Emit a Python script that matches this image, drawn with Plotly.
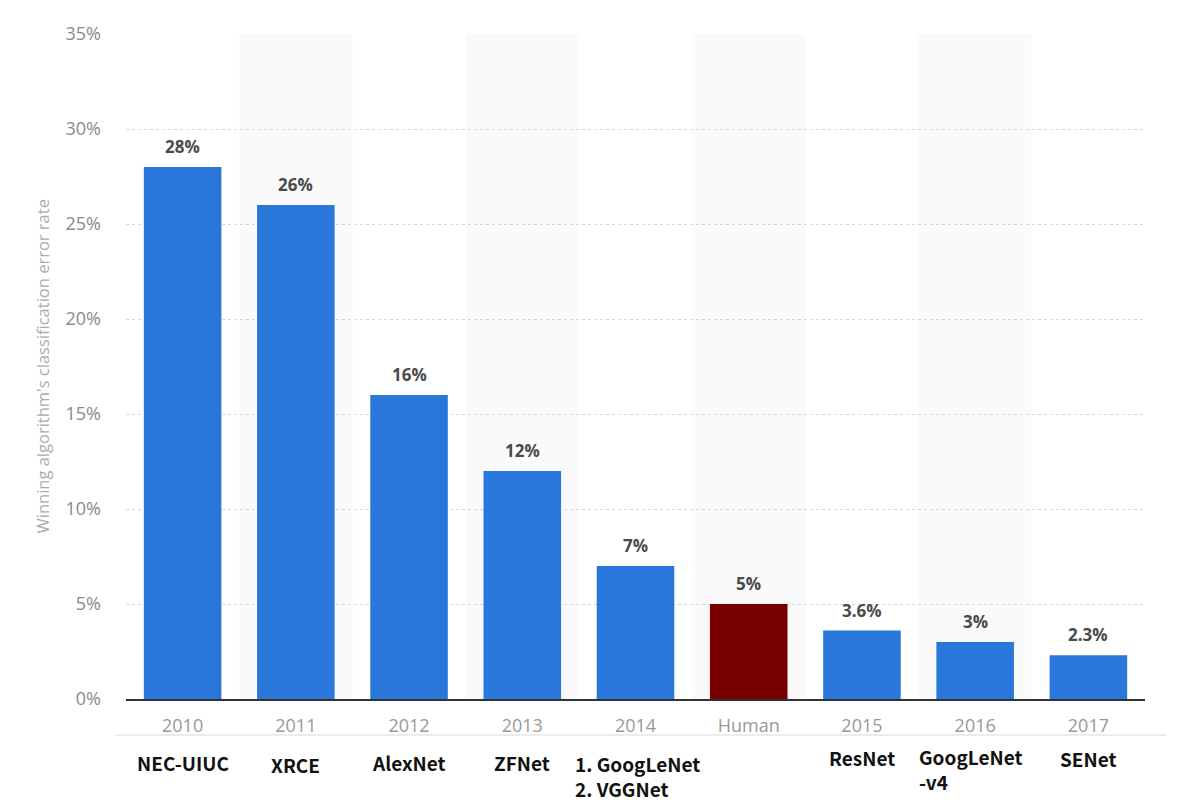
import plotly.graph_objects as go

categories = ["2010", "2011", "2012", "2013", "2014", "Human", "2015", "2016", "2017"]
error_rates = [28, 26, 16, 12, 7, 5, 3.6, 3, 2.3]
value_labels = ["28%", "26%", "16%", "12%", "7%", "5%", "3.6%", "3%", "2.3%"]
model_names = ["NEC-UIUC", "XRCE", "AlexNet", "ZFNet", "1. GoogLeNet<br>2. VGGNet", "",
               "ResNet", "GoogLeNet<br>-v4", "SENet"]
y_ticks = [0, 5, 10, 15, 20, 25, 30, 35]

BLUE = "#2a77dc"
RED = "#7a0000"
colors = [RED if c == "Human" else BLUE for c in categories]

fig = go.Figure()
fig.add_trace(go.Bar(
    x=categories, y=error_rates, marker=dict(color=colors, line=dict(width=0)),
    width=0.685, hoverinfo="x+y",
))

shapes = []
for i in range(len(categories)):
    if i % 2 == 1:
        shapes.append(dict(type="rect", xref="x", yref="y", x0=i - 0.5, x1=i + 0.5,
                           y0=0, y1=35, fillcolor="#fafafa", line=dict(width=0), layer="below"))
# faint line under the tick labels
shapes.append(dict(type="line", xref="paper", yref="paper", x0=-0.01, x1=1.021,
                   y0=-0.054, y1=-0.054, line=dict(color="#ececec", width=2)))

annotations = []
for i, (v, lab) in enumerate(zip(error_rates, value_labels)):
    annotations.append(dict(x=i, y=v, xref="x", yref="y", text="<b>" + lab + "</b>",
                            showarrow=False, yanchor="bottom", yshift=7,
                            font=dict(family="Open Sans", size=17, color="#4a4a4a")))

# (x offset in categories, anchor, vertical shift of the text block centre)
name_pos = {0: (0, "center", -63), 1: (0, "center", -65), 2: (0, "center", -63),
            3: (0, "center", -63), 4: (-0.55, "left", -77), 6: (0, "center", -58),
            7: (-0.51, "left", -70), 8: (0, "center", -59)}
for i, name in enumerate(model_names):
    if not name:
        continue
    dx, anchor, ys = name_pos[i]
    annotations.append(dict(x=i + dx, y=0, xref="x", yref="paper",
                            text="<b>" + name + "</b>", showarrow=False,
                            xanchor=anchor, yanchor="middle", align="left",
                            yshift=ys,
                            font=dict(family="Noto Sans CJK KR", size=19, color="#111111")))

annotations.append(dict(x=0, y=0.5, xref="paper", yref="paper", xshift=-84,
                        text="Winning algorithm's classification error rate",
                        textangle=-90, showarrow=False, xanchor="center", yanchor="middle",
                        font=dict(family="Open Sans", size=16.5, color="#ababab")))

fig.update_layout(
    width=1186, height=798,
    margin=dict(l=118, r=49, t=26, b=107, autoexpand=False),
    paper_bgcolor="white", plot_bgcolor="rgba(0,0,0,0)",
    showlegend=False,
    shapes=shapes, annotations=annotations,
    font=dict(family="Open Sans"),
)
fig.update_xaxes(
    type="category", showline=True, linecolor="#333333", linewidth=2,
    showgrid=False, ticks="", ticklabelstandoff=9, automargin=False,
    tickfont=dict(family="Open Sans", size=18, color="#999999"),
    range=[-0.5, len(categories) - 0.5],
)
fig.update_yaxes(
    range=[0, 35], tickvals=y_ticks, ticktext=[f"{t}%" for t in y_ticks],
    showgrid=True, gridcolor="#d6d6d6", gridwidth=1, griddash="dot",
    zeroline=False, ticks="", ticklabelstandoff=24, automargin=False,
    tickfont=dict(family="Open Sans", size=18, color="#8a8a8a"),
)

fig.write_html("out.html")
